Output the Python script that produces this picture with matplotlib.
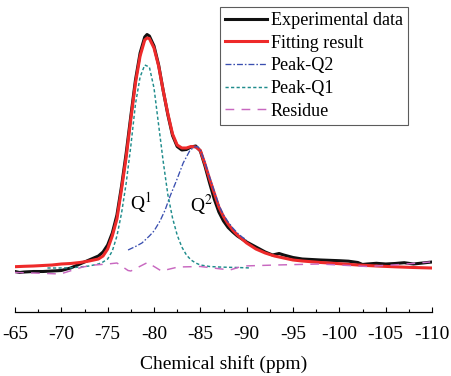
import matplotlib
matplotlib.use("Agg")
import matplotlib.pyplot as plt
from matplotlib.ticker import MultipleLocator

plt.rcParams['font.family'] = ['Liberation Serif', 'DejaVu Serif']
plt.rcParams['mathtext.fontset'] = 'stix'
plt.rcParams['axes.unicode_minus'] = False

# ---- data (ppm, intensity a.u.) ----
exp_ppm = [-65, -65.5, -66, -67, -68, -69, -70, -71, -72, -73, -74, -74.5, -75, -75.5, -76, -76.5,
           -77, -77.5, -78, -78.5, -79, -79.25, -79.5, -80, -80.5, -81, -81.5, -82, -82.5, -83,
           -83.5, -84, -84.5, -85, -85.5, -86, -86.5, -87, -87.5, -88, -88.5, -89, -90, -91, -92,
           -92.8, -93.5, -94, -95, -96, -97, -98, -100, -101, -102, -102.5, -103, -104, -105,
           -106, -107, -108, -109, -110]
exp_int = [-1.5, -2.5, -2.0, -1.5, -1.5, -1.0, -0.5, 2.0, 6.0, 10.0, 14.0, 18.0, 25.0, 37.0, 55.0, 84.0,
           117.0, 154.0, 190.0, 217.0, 233.0, 235.5, 234.0, 224.0, 205.0, 179.0, 155.0, 134.5, 123.5, 120.0,
           120.5, 123.0, 124.0, 119.0, 104.0, 87.0, 71.0, 58.0, 49.0, 42.5, 38.0, 34.0, 28.0, 23.0, 18.0,
           15.0, 16.5, 15.0, 12.5, 11.0, 10.5, 10.0, 9.3, 8.8, 7.5, 5.5, 6.0, 6.7, 6.0,
           6.5, 7.3, 6.0, 7.0, 8.0]

fit_ppm = [-65, -66, -67, -68, -69, -70, -71, -72, -73, -74, -74.5, -75, -75.5, -76, -76.5, -77,
           -77.5, -78, -78.5, -79, -79.25, -79.5, -80, -80.5, -81, -81.5, -82, -82.5, -83, -83.5,
           -84, -84.5, -85, -85.5, -86, -86.5, -87, -87.5, -88, -88.5, -89, -90, -91, -92, -93,
           -94, -95, -96, -98, -100, -102, -104, -106, -108, -110]
fit_int = [3.3, 3.7, 4.0, 4.5, 5.0, 6.0, 6.5, 7.5, 9.0, 11.0, 14.0, 21.0, 34.0, 51.0, 81.0, 113.0,
           151.0, 187.0, 214.0, 230.0, 232.0, 231.5, 222.0, 204.0, 179.0, 156.0, 136.0, 125.0, 122.0, 122.0,
           123.5, 123.0, 119.5, 106.0, 91.0, 77.0, 63.0, 53.5, 46.0, 40.0, 35.0, 27.0, 21.0, 17.0, 14.0,
           12.0, 10.0, 9.0, 7.5, 6.3, 5.0, 4.0, 3.2, 2.5, 2.0]

q2_ppm = [-77.2, -78, -78.7, -79.5, -80, -80.65, -81.2, -81.7, -82.45, -83.15, -83.9, -84.4, -84.7,
          -85, -85.5, -86, -86.5, -87, -87.5, -88, -88.5, -89, -89.5, -90]
q2_int = [20, 23.5, 27, 34, 39, 49, 60, 73, 90, 107, 120, 123, 123.5,
          120, 108, 93, 79, 65, 55, 48, 42, 37, 33, 30]

q1_ppm = [-68.5, -70, -71, -72, -73, -74, -74.5, -75, -75.5, -76, -76.5, -77, -77.5, -78, -78.5, -79,
          -79.5, -80, -80.5, -81, -81.5, -82, -82.5, -83, -83.5, -84, -84.5, -85, -86, -87, -88,
          -89, -90.5]
q1_int = [2.0, 2.0, 2.2, 3.0, 4.0, 6.0, 8.0, 11.0, 19.0, 34.0, 57.0, 87.0, 124.0, 166.0, 193.0, 205.0,
          203.0, 182.0, 145.0, 108.0, 75.0, 52.0, 35.0, 23.0, 15.0, 10.0, 7.0, 5.0, 3.5, 3.0, 2.7,
          2.5, 2.0]

res_ppm = [-65, -67, -69.9, -72.3, -73.6, -75, -76, -77.2, -77.5, -79.3, -80.8, -82.6, -85, -88.2,
           -89.6, -93.2, -97.9, -103, -106.6, -109.8]
res_int = [-2.5, -3.0, -4.0, 3.0, 5.0, 6.0, 7.0, -0.5, -1.0, 7.5, -1.0, 3.0, 3.5, 0.0,
           4.0, 5.0, 6.0, 3.5, 5.5, 8.0]

xticks = [-65, -70, -75, -80, -85, -90, -95, -100, -105, -110]
xtick_labels = ['-65', '-70', '-75', '-80', '-85', '-90', '-95', '-100', '-105', '-110']

# ---- figure ----
fig = plt.figure(figsize=(4.51, 3.76), dpi=100)
ax = fig.add_axes([15 / 451, 64 / 376, 417 / 451, 312 / 376])

ax.plot(exp_ppm, exp_int, color='#111111', lw=2.2, label='Experimental data', zorder=2)
ax.plot(fit_ppm, fit_int, color='#ee2a2a', lw=2.2, label='Fitting result', zorder=3)
ax.plot(q2_ppm, q2_int, color='#3a4fb0', lw=0.95, dashes=(4.5, 1.5, 1.2, 1.5), label='Peak-Q2', zorder=4)
ax.plot(q1_ppm, q1_int, color='#1f8c8c', lw=1.05, dashes=(2.2, 1.6), label='Peak-Q1', zorder=4)
ax.plot(res_ppm, res_int, color='#c868c0', lw=1.05, dashes=(6, 5), label='Residue', zorder=4)

ax.text(-78.6, 67, 'Q$^{1}$', fontsize=14, ha='center', va='center')
ax.text(-85.1, 65, 'Q$^{2}$', fontsize=14, ha='center', va='center')

ax.set_xlim(-65, -110)
ax.set_ylim(-42, 270)
for s in ['top', 'left', 'right']:
    ax.spines[s].set_visible(False)
ax.spines['bottom'].set_linewidth(0.9)
ax.set_yticks([])
ax.set_xticks(xticks)
ax.set_xticklabels(xtick_labels)
ax.xaxis.set_minor_locator(MultipleLocator(2.5))
ax.tick_params(axis='x', which='major', direction='in', length=3.5, width=0.8, labelsize=14, pad=10)
ax.tick_params(axis='x', which='minor', direction='in', length=2, width=0.8)
ax.set_xlabel('Chemical shift (ppm)', fontsize=14, labelpad=9)

leg = ax.legend(loc='upper left', bbox_to_anchor=((220 - 15) / 417, (312 - 7) / 312),
                borderaxespad=0, fontsize=13.1, frameon=True, fancybox=False,
                handlelength=2.3, handletextpad=0.2, labelspacing=0.31, borderpad=0.28)
leg.get_frame().set_edgecolor('#333333')
leg.get_frame().set_linewidth(0.8)

fig.savefig('out.png', dpi=100)
